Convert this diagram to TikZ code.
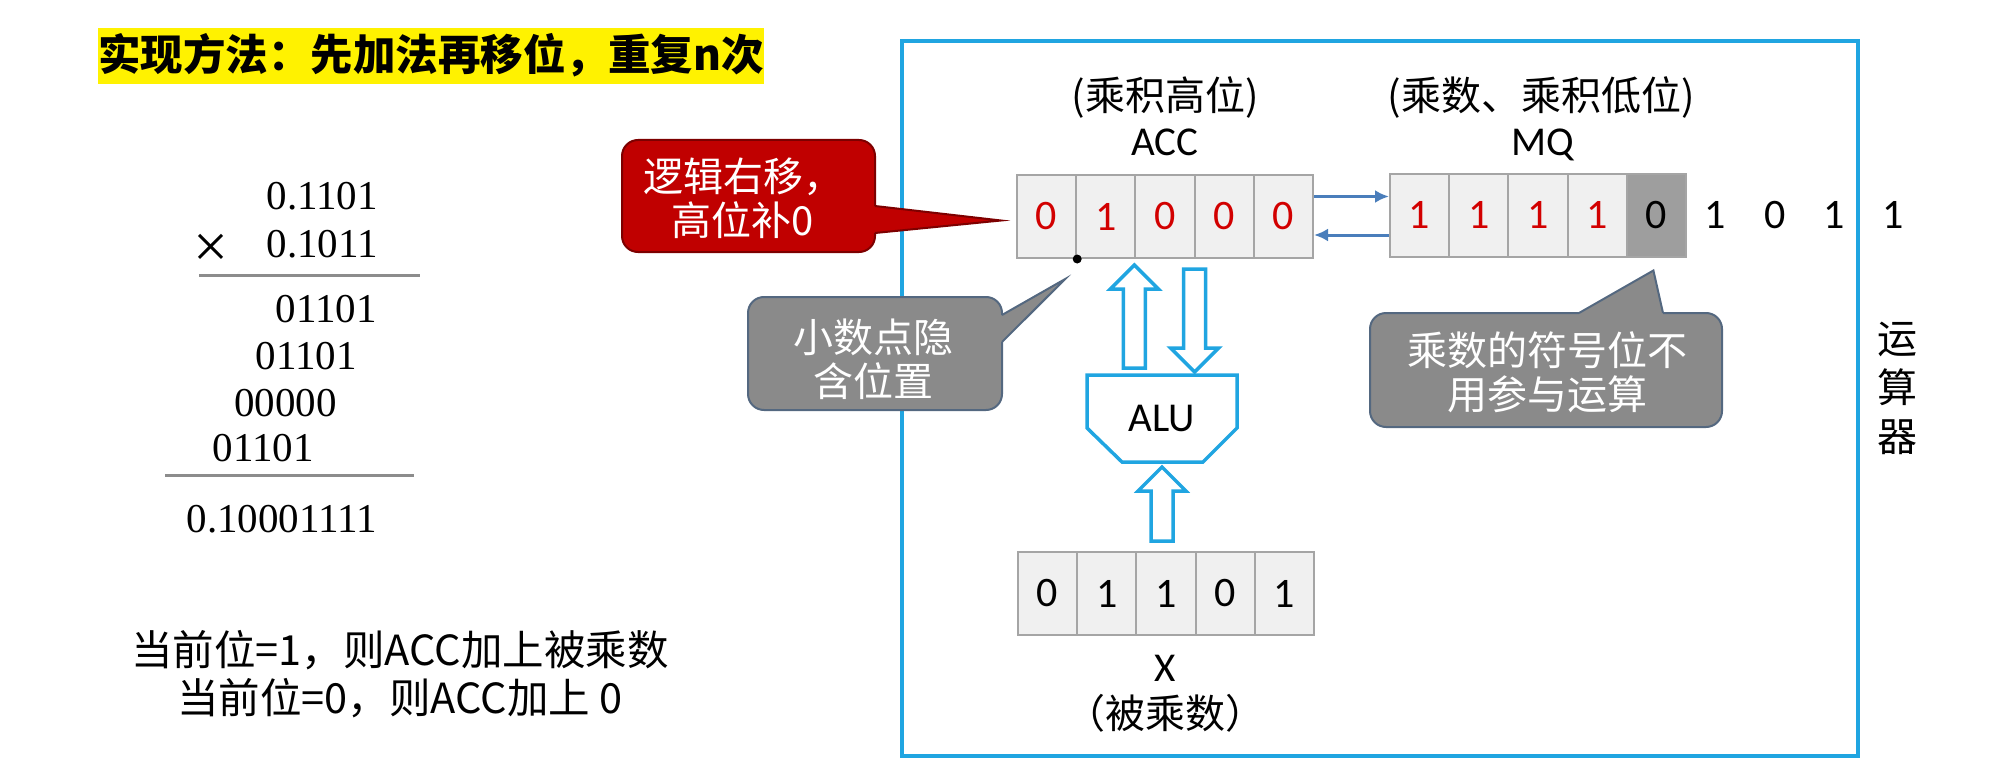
\documentclass[tikz,border=0pt]{standalone}
\usepackage{fontspec}
\setmainfont{Carlito}
\newfontfamily\cjk{Noto Sans CJK SC}
\newfontfamily\tms{Liberation Serif}
\usetikzlibrary{arrows.meta,calc}

\definecolor{framecol}{RGB}{32,165,225}
\definecolor{linkcol}{RGB}{74,126,187}
\definecolor{cellfill}{RGB}{240,240,240}
\definecolor{celldraw}{RGB}{165,165,165}
\definecolor{signfill}{RGB}{158,158,158}
\definecolor{bitred}{RGB}{210,0,0}
\definecolor{calloutred}{RGB}{192,0,0}
\definecolor{calloutgray}{RGB}{138,138,138}
\definecolor{tipedge}{RGB}{84,104,128}
\definecolor{rulegray}{RGB}{140,140,140}

\tikzset{
  cell/.style={draw=celldraw, fill=cellfill, line width=2pt, minimum width=59.2pt,
    minimum height=83pt, inner sep=0pt, font=\fontsize{42}{42}\selectfont},
  bit/.style={font=\fontsize{41}{41}\selectfont, inner sep=0pt},
  zh/.style={font=\cjk\fontsize{40}{48}\selectfont, inner sep=0pt},
  note/.style={font=\cjk\fontsize{40}{44}\selectfont, inner sep=0pt, text=white, align=center},
  num/.style={font=\tms\fontsize{41}{41}\selectfont, inner sep=0pt, anchor=base east},
  fat/.style={draw=framecol, line width=3.5pt, fill=white, line join=miter,
    to path={let \p1=(\tikztostart), \p2=(\tikztotarget),
      \p3=($(\tikztotarget)!24pt!(\tikztostart)$) in
      (\x1-11pt,\y1) -- (\x1-11pt,\y3) -- (\x1-24pt,\y3) -- (\x1,\y2)
      -- (\x1+24pt,\y3) -- (\x1+11pt,\y3) -- (\x1+11pt,\y1) -- cycle}},
  link/.style={draw=linkcol, line width=3pt, -{Latex[length=14pt,width=13pt]}},
  redline/.style={draw=calloutred!65!black, line width=2pt},
  grayline/.style={draw=tipedge, line width=2pt},
}

\begin{document}
\begin{tikzpicture}[x=1pt,y=-1pt]
\useasboundingbox (0,0) rectangle (1994,773);

% left half: method and worked example
\fill[yellow] (98,28) rectangle (764,84);
\node[font=\cjk\bfseries\fontsize{42.5}{42.5}\selectfont, inner sep=0pt, anchor=base west]
  (title) at (98,71) {实现方法：先加法再移位，重复n次};

\node[num] (mcand) at (378,209) {0.1101};
\node[num] (mplier) at (378,257) {0.1011};
\node[font=\tms\fontsize{62}{62}\selectfont, inner sep=0pt] (times) at (211,251) {×};
\draw[rulegray, line width=3pt] (199,275) -- (420,275);
\node[num] (pp1) at (377,322) {01101};
\node[num] (pp2) at (357,369) {01101};
\node[num] (pp3) at (337,416) {00000};
\node[num] (pp4) at (314,461) {01101};
\draw[rulegray, line width=3pt] (165,475) -- (414,475);
\node[num] (prod) at (377,532) {0.10001111};

\node[zh, font=\cjk\fontsize{41.5}{48}\selectfont, anchor=base] (rule1) at (400,665) {当前位=1，则ACC加上被乘数};
\node[zh, font=\cjk\fontsize{41.5}{48}\selectfont, anchor=base] (rule0) at (400,713) {当前位=0，则ACC加上 0};

% right half: the arithmetic unit
\draw[framecol, line width=3.5pt] (902,41) rectangle (1858,756);
\foreach \c [count=\i] in {运,算,器}
  \node[zh, anchor=base] (unit\i) at (1897,{353+49*(\i-1)}) {\c};

\foreach \b [count=\i] in {0,1,0,0,0}
  \node[cell, text=bitred] (acc\i) at ({1017+59.2*(\i-0.5)},216.5) {\b};
\foreach \b [count=\i] in {1,1,1,1}
  \node[cell, text=bitred] (mq\i) at ({1390+59.2*(\i-0.5)},215) {\b};
\node[cell, fill=signfill] (mq5) at ({1390+59.2*4.5},215) {0};
\foreach \b [count=\i] in {1,0,1,1}
  \node[bit, font=\fontsize{42}{42}\selectfont] (low\i) at ({1390+59.2*(\i+4.5)},215) {\b};
\foreach \b [count=\i] in {0,1,1,0,1}
  \node[cell] (x\i) at ({1018+59.2*(\i-0.5)},593.5) {\b};

\node[zh, anchor=base] (accrole) at (1165,111) {(乘积高位)};
\node[bit, anchor=base] (accname) at (1165,155) {ACC};
\node[zh, anchor=base] (mqrole) at (1541,111) {(乘数、乘积低位)};
\node[bit, anchor=base] (mqname) at (1543,155) {MQ};
\node[bit, anchor=base] (xname) at (1165,681) {X};
\node[zh, anchor=base] (xrole) at (1165,728) {（被乘数）};

\draw[link] ([yshift=20pt]acc5.east) -- ([yshift=20pt]acc5.east -| mq1.west);
\draw[link] ([yshift=-20pt]mq1.west) -- ([yshift=-20pt]mq1.west -| acc5.east);

\coordinate (point) at (acc1.south east);
\fill (point) circle (4.5pt);

\node[bit] (alu) at (1162,418) {ALU};
\coordinate (alutop) at (1162,375);
\coordinate (alubot) at (1162,462);
\draw[framecol, line width=3.5pt] ($(alu)+(-75,-43)$) -- ++(150,0) -- ++(0,53)
  -- ++(-34,34) -- ++(-81,0) -- ++(-35,-34) -- cycle;

\draw[fat] ([xshift=-2pt,yshift=7pt]acc2.south east |- alutop) to ([xshift=-2pt,yshift=-6pt]acc2.south east);
\draw[fat] ([xshift=-1pt,yshift=-10pt]acc3.south east) to ([xshift=-1pt,yshift=3pt]acc3.south east |- alutop);
\draw[fat] ([yshift=10pt]alubot |- x3.north) to ([yshift=-5pt]alubot);

% callouts
\coordinate (shifttip) at ($(acc1.west)+(-15,4)$);
\fill[calloutred, rounded corners=16pt] (622,140) rectangle (875,252);
\fill[calloutred] (875,206) -- (shifttip) -- (875,233) -- cycle;
\draw[redline, rounded corners=16pt] (875,233) -- (875,252) -- (622,252) -- (622,140) -- (875,140) -- (875,206);
\draw[redline] (875,206) -- (shifttip) -- (875,233);
\node[note] (shiftnote) at (743,198) {逻辑右移，\\高位补0};

\coordinate (pointtip) at ($(point)+(-12,20)$);
\fill[calloutgray, rounded corners=16pt] (748,297) rectangle (1002,410);
\fill[calloutgray] (1002,315) -- (pointtip) -- (1002,342) -- cycle;
\draw[grayline, rounded corners=16pt] (1002,342) -- (1002,410) -- (748,410) -- (748,297) -- (1002,297) -- (1002,315);
\draw[grayline] (1002,315) -- (pointtip) -- (1002,342);
\node[note] (pointnote) at (873,359) {小数点隐\\含位置};

\coordinate (signtip) at ($(mq5.south)+(-3,13)$);
\fill[calloutgray, rounded corners=16pt] (1370,313) rectangle (1722,427);
\fill[calloutgray] (1579,313) -- (signtip) -- (1663,313) -- cycle;
\draw[grayline, rounded corners=16pt] (1663,313) -- (1722,313) -- (1722,427) -- (1370,427) -- (1370,313) -- (1579,313);
\draw[grayline] (1579,313) -- (signtip) -- (1663,313);
\node[note] (signnote) at (1547,372) {乘数的符号位不\\用参与运算};

\end{tikzpicture}
\end{document}
